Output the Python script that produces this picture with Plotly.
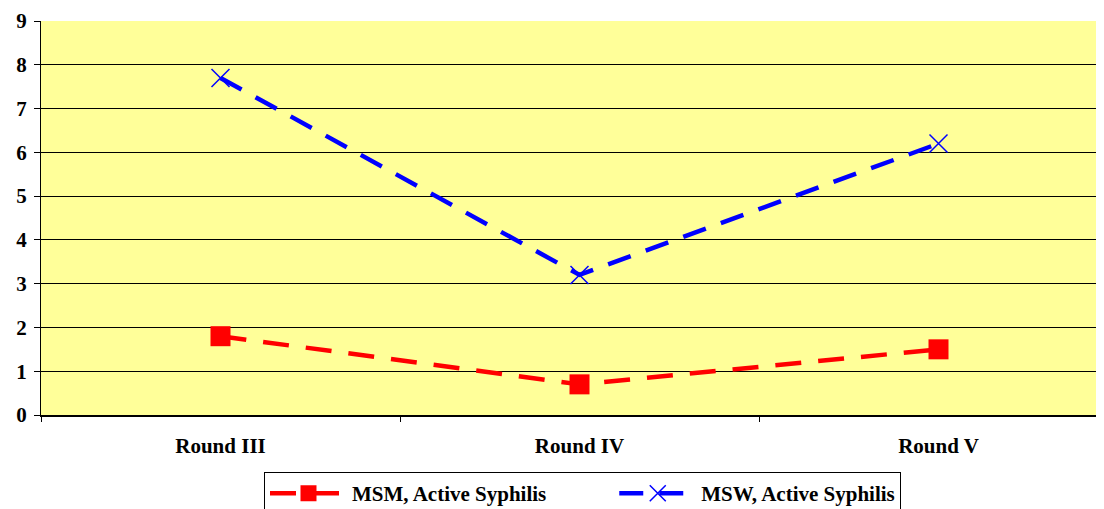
import plotly.graph_objects as go

categories = ["Round III", "Round IV", "Round V"]
msm_values = [1.8, 0.7, 1.5]
msw_values = [7.7, 3.2, 6.2]
y_ticks = [0, 1, 2, 3, 4, 5, 6, 7, 8, 9]
series_names = ["MSM, Active Syphilis", "MSW, Active Syphilis"]

font_family = "Liberation Serif"
xpos = list(range(len(categories)))
pad = "&nbsp;" * 12

fig = go.Figure()
fig.add_trace(go.Scatter(
    x=xpos, y=msm_values, mode="lines+markers", name="<b>%s</b>%s" % (series_names[0], pad),
    line=dict(color="#FF0000", width=4.5, dash="26px,17px"),
    marker=dict(symbol="square", size=20, color="#FF0000"),
))
fig.add_trace(go.Scatter(
    x=xpos, y=msw_values, mode="lines+markers", name="<b>%s</b>" % series_names[1],
    line=dict(color="#0000FF", width=4.5, dash="24px,16px"),
    marker=dict(symbol="x-thin", size=18, color="#0000FF", line=dict(color="#0000FF", width=1.5)),
))
# invisible trace on second x-axis to carry category boundary ticks
fig.add_trace(go.Scatter(x=[-0.5], y=[0], xaxis="x2", mode="markers",
                         marker=dict(opacity=0), showlegend=False, hoverinfo="skip"))

xr = [-0.5, 2.461]
fig.update_layout(
    width=1096, height=501,
    margin=dict(l=33, r=0, t=13, b=94, autoexpand=False),
    paper_bgcolor="white",
    plot_bgcolor="#FFFF99",
    font=dict(family=font_family, color="black"),
    showlegend=True,
    legend=dict(
        orientation="h", x=0.5094, xanchor="center", y=-0.145, yanchor="top",
        bordercolor="black", borderwidth=1, bgcolor="white",
        font=dict(size=21, family=font_family),
        itemwidth=77,
    ),
    xaxis=dict(
        range=xr, tickmode="array", tickvals=xpos,
        ticktext=["<b>%s</b>" % c for c in categories],
        ticks="", showgrid=False, zeroline=False, automargin=False,
        tickfont=dict(size=21, family=font_family), ticklabelstandoff=11,
        showline=True, linecolor="black", linewidth=2,
    ),
    xaxis2=dict(
        range=xr, overlaying="x", tickmode="array", tickvals=[-0.5, 0.5, 1.5, 2.5],
        ticks="outside", ticklen=6, tickcolor="black", tickwidth=1, automargin=False,
        showticklabels=False, showgrid=False, zeroline=False, side="bottom",
        anchor="y",
    ),
    yaxis=dict(
        range=[0, 9], tickmode="array", tickvals=y_ticks,
        ticktext=["<b>%d</b>" % v for v in y_ticks],
        ticks="outside", ticklen=6, tickcolor="black", automargin=False,
        showgrid=True, gridcolor="black", gridwidth=1, ticklabelstandoff=3,
        zeroline=False, showline=True, linecolor="black", linewidth=1,
        tickfont=dict(size=21, family=font_family),
    ),
)

fig.write_html("out.html")
